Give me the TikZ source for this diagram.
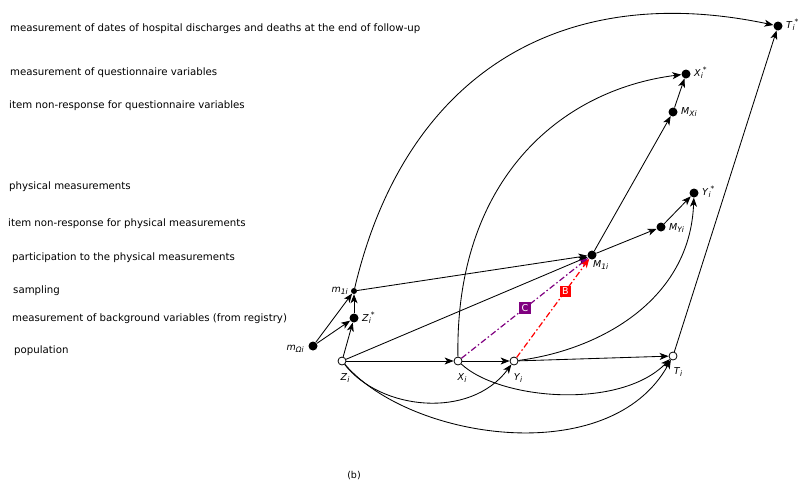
\documentclass[tikz,border=0pt]{standalone}
\usepackage{fontspec}
\setmainfont{DejaVu Sans}
\usetikzlibrary{arrows.meta}
\newcommand{\subsz}{\fontsize{7.5}{8}\selectfont}
\newcommand{\vlab}[3]{\textit{#1}\raisebox{-2.6pt}{\subsz\textit{#2}}\raisebox{3.6pt}{\subsz #3}}
\definecolor{cpurple}{RGB}{128,0,128}
\begin{document}
\begin{tikzpicture}[x=1pt,y=-1pt,
  fdot/.style={circle,fill=black,inner sep=0pt,minimum size=9pt},
  sdot/.style={circle,fill=black,inner sep=0pt,minimum size=6pt},
  odot/.style={circle,draw=black,fill=white,inner sep=0pt,minimum size=8pt,line width=0.8pt},
  lbl/.style={font=\fontsize{9.5}{10}\selectfont,inner sep=0pt},
  desc/.style={anchor=west,font=\fontsize{10.2}{12}\selectfont,inner sep=0pt},
  arr/.style={-{Stealth[length=9pt,width=7pt,inset=2.5pt]},line width=0.85pt},
  dd/.style={line width=1.2pt,dash pattern=on 6pt off 2.5pt on 1.5pt off 2.5pt,-{Stealth[length=9pt,width=7pt,inset=2.5pt]}},
  tagbox/.style={text=white,inner sep=2.3pt,font=\fontsize{9.5}{10}\selectfont}
]
\useasboundingbox (0,0) rectangle (810,483);

% left descriptions
\node[desc] (d1) at (10,28.5) {measurement of dates of hospital discharges and deaths at the end of follow-up};
\node[desc] (d2) at (10,72.5) {measurement of questionnaire variables};
\node[desc] (d3) at (9,105.5) {item non-response for questionnaire variables};
\node[desc] (d4) at (9,186.5) {physical measurements};
\node[desc] (d5) at (8,223.5) {item non-response for physical measurements};
\node[desc] (d6) at (12,257.5) {participation to the physical measurements};
\node[desc] (d7) at (13,290.5) {sampling};
\node[desc] (d8) at (12,318.5) {measurement of background variables (from registry)};
\node[desc] (d9) at (14,350.5) {population};

% nodes
\node[fdot] (mO) at (313,346) {};
\node[odot] (Z) at (342,361) {};
\node[fdot] (Zs) at (354,318) {};
\node[sdot] (m1) at (354,291) {};
\node[odot] (X) at (458,361) {};
\node[odot] (Y) at (514,361) {};
\node[odot] (T) at (673,356) {};
\node[fdot] (M1) at (592,255) {};
\node[fdot] (MY) at (661,227) {};
\node[fdot] (Ys) at (694,193) {};
\node[fdot] (MX) at (673,112) {};
\node[fdot] (Xs) at (686,74) {};
\node[fdot] (Ts) at (778,26) {};

% labels
\node[lbl,anchor=east] (lmO) at (304,349) {\vlab{m}{Ωi}{}};
\node[lbl] (lZ) at (345,378) {\vlab{Z}{i}{}};
\node[lbl,anchor=west] (lZs) at (362,318) {\vlab{Z}{i}{*}};
\node[lbl,anchor=east] (lm1) at (348,291) {\vlab{m}{1i}{}};
\node[lbl] (lX) at (462,378) {\vlab{X}{i}{}};
\node[lbl] (lY) at (518,378) {\vlab{Y}{i}{}};
\node[lbl] (lT) at (678,372) {\vlab{T}{i}{}};
\node[lbl,anchor=west] (lM1) at (593,265) {\vlab{M}{1i}{}};
\node[lbl,anchor=west] (lMY) at (669,228) {\vlab{M}{Yi}{}};
\node[lbl,anchor=west] (lYs) at (702,192) {\vlab{Y}{i}{*}};
\node[lbl,anchor=west] (lMX) at (681,112) {\vlab{M}{Xi}{}};
\node[lbl,anchor=west] (lXs) at (694,73) {\vlab{X}{i}{*}};
\node[lbl,anchor=west] (lTs) at (786,25) {\vlab{T}{i}{*}};
\node[lbl] (cap) at (354,476) {(b)};

% straight edges
\draw[arr] (mO) -- (m1);
\draw[arr] (mO) -- (Zs);
\draw[arr] (Z) -- (Zs);
\draw[arr] (Zs) -- (m1);
\draw[arr] (m1) -- (M1);
\draw[arr] (Z) -- (M1);
\draw[arr] (M1) -- (MX);
\draw[arr] (M1) -- (MY);
\draw[arr] (MY) -- (Ys);
\draw[arr] (MX) -- (Xs);
\draw[arr] (T) -- (Ts);
\draw[arr] (Z) -- (X);
\draw[arr] (X) -- (Y);
\draw[arr] (Y) -- (T);

% curved edges
\draw[arr] (m1) .. controls (405,75) and (560,-20) .. (Ts);
\draw[arr] (X) .. controls (455,180) and (560,90) .. (Xs);
\draw[arr] (Y) .. controls (600,350) and (690,300) .. (Ys);
\draw[arr] (Z) .. controls (380,410) and (470,420) .. (Y);
\draw[arr] (X) .. controls (500,400) and (620,410) .. (T);
\draw[arr] (Z) .. controls (410,440) and (610,470) .. (T);

% dash-dot edges
\draw[dd,cpurple] (X) -- (M1) node[pos=0.5,fill=cpurple,tagbox] (tC) {C};
\draw[dd,red] (Y) -- (M1) node[pos=0.67,fill=red,tagbox] (tB) {B};
\end{tikzpicture}
\end{document}
